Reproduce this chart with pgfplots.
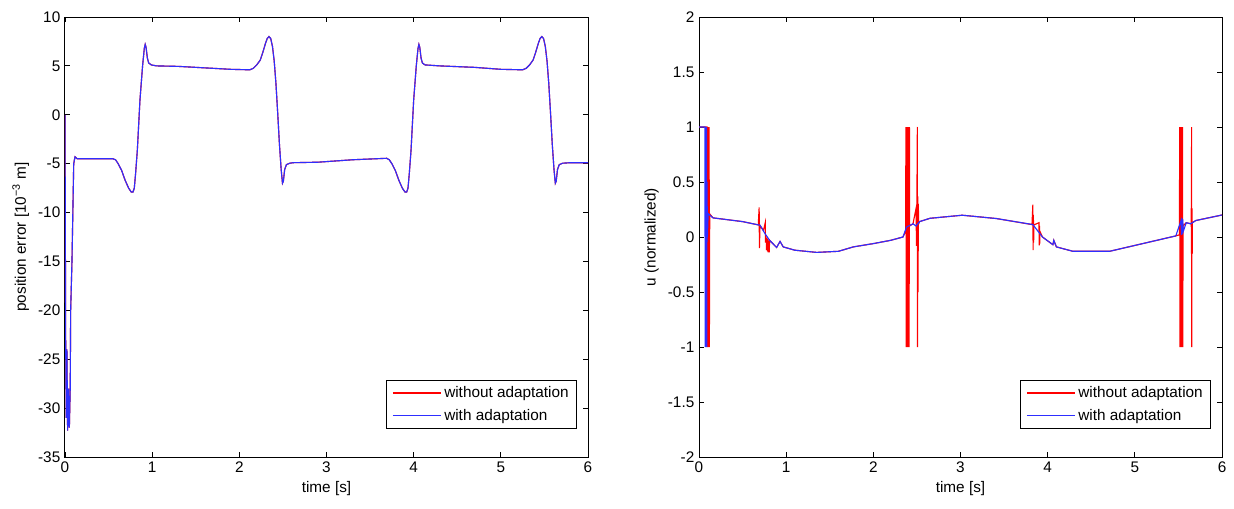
\documentclass[border=0pt]{standalone}
\usepackage{fontspec}
\setmainfont{Liberation Sans}
\usepackage{pgfplots}
\usepackage{pgfplotstable}
\pgfplotsset{compat=1.18}

\definecolor{mblue}{rgb}{0.18,0.18,1}
\definecolor{mred}{rgb}{1,0,0}

\pgfplotstableread{
t e
0 0
0.004 -12
0.008 -23.5
0.015 -31
0.022 -24
0.03 -32.3
0.04 -28
0.05 -32
0.06 -28
0.065 -20
0.08 -15
0.1 -5
0.115 -4.3
0.14 -4.5
0.3 -4.5
0.55 -4.5
0.58 -4.6
0.61 -5.0
0.65 -5.7
0.69 -6.7
0.73 -7.5
0.76 -7.9
0.78 -7.9
0.795 -7.5
0.81 -6.0
0.83 -3.6
0.86 1.5
0.89 5.0
0.91 6.8
0.92 7.2
0.93 6.9
0.945 5.8
0.96 5.3
0.99 5.1
1.05 5.0
1.3 4.95
1.6 4.8
1.9 4.65
2.12 4.6
2.16 4.75
2.20 5.1
2.24 5.6
2.27 6.4
2.30 7.3
2.32 7.8
2.34 8.0
2.36 7.8
2.38 7.0
2.40 5.5
2.42 3.2
2.44 0.2
2.46 -3.0
2.48 -5.6
2.495 -7.0
2.505 -6.8
2.52 -5.6
2.54 -5.1
2.58 -4.95
2.62 -4.9
2.9 -4.85
3.3 -4.6
3.69 -4.45
3.72 -4.6
3.75 -5.0
3.79 -5.7
3.83 -6.7
3.87 -7.5
3.90 -7.9
3.92 -7.9
3.935 -7.5
3.95 -6.0
3.97 -3.6
4.00 1.5
4.03 5.0
4.05 6.8
4.06 7.2
4.07 6.9
4.085 5.8
4.10 5.3
4.13 5.1
4.3 5.0
4.7 4.85
5.0 4.65
5.25 4.6
5.29 4.75
5.33 5.1
5.37 5.6
5.40 6.4
5.43 7.3
5.45 7.8
5.47 8.0
5.49 7.8
5.51 7.0
5.53 5.5
5.55 3.2
5.57 0.2
5.59 -3.0
5.61 -5.6
5.625 -7.0
5.635 -6.8
5.65 -5.6
5.67 -5.1
5.71 -4.95
5.8 -4.9
6.0 -4.9
}\errtable

\pgfplotstableread{
t u
0 1
0.092 1
0.095 -1
0.098 1
0.101 -1
0.104 1
0.107 -1
0.110 1
0.113 -1
0.116 1
0.119 -1
0.121 -0.3
0.123 0.21
0.16 0.174
0.3 0.16
0.5 0.14
0.68 0.11
0.69 0.27
0.693 -0.1
0.70 0.105
0.74 0.06
0.76 0.13
0.763 -0.05
0.77 0.0
0.775 -0.12
0.78 -0.01
0.785 -0.13
0.79 -0.02
0.795 -0.14
0.80 -0.03
0.805 -0.14
0.81 -0.03
0.89 -0.095
0.93 -0.04
0.966 -0.09
1.1 -0.12
1.35 -0.14
1.6 -0.13
1.77 -0.09
2.0 -0.06
2.2 -0.03
2.34 0.0
2.37 0.05
2.374 1
2.378 -1
2.382 1
2.386 -1
2.390 1
2.394 -1
2.398 1
2.402 -1
2.406 1
2.410 -1
2.414 1
2.416 0.1
2.455 0.12
2.49 0.26
2.495 -0.08
2.50 0.37
2.505 1
2.507 -1
2.51 0.37
2.513 -0.5
2.516 0.3
2.52 0.12
2.53 0.14
2.65 0.17
3.02 0.198
3.41 0.168
3.82 0.113
3.83 0.295
3.833 -0.12
3.836 0.2
3.839 -0.05
3.842 0.11
3.90 0.13
3.903 -0.075
3.906 0.1
3.909 -0.06
3.912 0.05
3.94 0.0
4.06 -0.07
4.07 -0.03
4.1 -0.09
4.29 -0.13
4.71 -0.13
5.09 -0.06
5.47 0.01
5.512 0.02
5.514 1
5.518 -1
5.522 1
5.526 -1
5.530 1
5.534 -1
5.538 1
5.542 -1
5.546 1
5.550 -1
5.553 0.1
5.59 0.13
5.645 0.12
5.647 0.26
5.649 -0.15
5.651 1
5.653 -1
5.655 0.26
5.658 -0.15
5.66 0.13
5.70 0.15
6.0 0.2
}\uredtable

\pgfplotstableread{
t u
0 1
0.068 1
0.071 -1
0.074 1
0.077 -1
0.080 1
0.083 -1
0.086 1
0.089 -1
0.092 0.5
0.096 0.0
0.105 0.213
0.16 0.174
0.3 0.16
0.5 0.14
0.70 0.107
0.756 0.032
0.81 -0.03
0.89 -0.095
0.93 -0.04
0.966 -0.09
1.1 -0.12
1.35 -0.14
1.6 -0.13
1.77 -0.09
2.0 -0.06
2.2 -0.03
2.34 0.0
2.38 0.09
2.455 0.12
2.49 0.10
2.53 0.14
2.65 0.17
3.02 0.198
3.41 0.168
3.83 0.113
3.94 0.0
4.06 -0.07
4.07 -0.03
4.1 -0.09
4.29 -0.13
4.71 -0.13
5.09 -0.06
5.47 0.01
5.53 0.15
5.535 0.02
5.54 0.17
5.545 0.03
5.55 0.16
5.555 0.05
5.59 0.13
5.64 0.12
5.70 0.15
6.0 0.2
}\ubluetable

\pgfplotsset{
  mat/.style={
    scale only axis,
    width=392.25pt, height=330pt,
    xmin=0, xmax=6, xtick={0,1,...,6},
    tick align=inside,
    major tick length=3.75pt,
    tick style={black, line width=0.6pt},
    axis line style={line width=0.75pt},
    every axis plot/.append style={line width=0.85pt},
    tick label style={font=\fontsize{11.5}{13}\selectfont},
    label style={font=\fontsize{11.5}{13}\selectfont},
    /pgf/number format/assume math mode=true,
    /pgf/number format/fixed,
    xlabel={time [s]},
    legend cell align=left,
    legend style={at={(1,0)}, anchor=south east, xshift=-8.25pt, yshift=21pt,
      inner xsep=4pt, inner ysep=3pt,
      row sep=3pt, font=\fontsize{11.5}{13}\selectfont},
  },
}

\begin{document}
\begin{tikzpicture}
\useasboundingbox (-48.75pt,-38.25pt) rectangle (876.75pt,342.75pt);
\begin{axis}[mat, at={(0,0)}, anchor=south west,
    ymin=-35, ymax=10, ytick={-35,-30,...,10},
    ylabel={position error [10\textsuperscript{−3} m]}]
\addplot[mred, forget plot] table[x=t, y=e] {\errtable};
\addplot[mblue, forget plot] table[x=t, y=e] {\errtable};
\addlegendimage{legend image code/.code={\draw[draw=mred, line width=1.2pt] (0pt,0pt) -- (36pt,0pt);}}
\addlegendentry{without adaptation}
\addlegendimage{legend image code/.code={\draw[draw=mblue, line width=1.2pt] (0pt,0pt) -- (36pt,0pt);}}
\addlegendentry{with adaptation}
\end{axis}
\begin{axis}[mat, at={(475.5pt,0)}, anchor=south west,
    ymin=-2, ymax=2, ytick={-2,-1.5,...,2},
    ylabel={u (normalized)}]
\addplot[mred, forget plot] table[x=t, y=u] {\uredtable};
\addplot[mblue, forget plot] table[x=t, y=u] {\ubluetable};
\addlegendimage{legend image code/.code={\draw[draw=mred, line width=1.2pt] (0pt,0pt) -- (36pt,0pt);}}
\addlegendentry{without adaptation}
\addlegendimage{legend image code/.code={\draw[draw=mblue, line width=1.2pt] (0pt,0pt) -- (36pt,0pt);}}
\addlegendentry{with adaptation}
\end{axis}
\end{tikzpicture}
\end{document}
